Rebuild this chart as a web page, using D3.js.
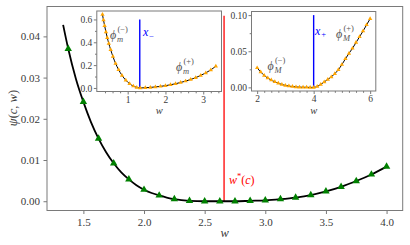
<!DOCTYPE html>
<html>
<head>
<meta charset="utf-8">
<script src="https://cdn.jsdelivr.net/npm/d3@7"></script>
<style>
body { margin: 0; background: #fff; }
svg { display: block; font-family: "Liberation Serif", "DejaVu Serif", serif; }
</style>
</head>
<body>
<svg width="410" height="245"></svg>
<script>
// main panel: psi(c, w)
const lineW = [1.333, 1.375, 1.4375, 1.5, 1.5625, 1.625, 1.6875, 1.75, 1.8125, 1.875, 1.9375, 2.0, 2.0625, 2.125, 2.1875, 2.25, 2.375, 2.5, 2.625, 2.75, 2.875, 3.0, 3.125, 3.25, 3.375, 3.5, 3.625, 3.75, 3.875, 4.0];
const linePsi = [0.0428, 0.0370, 0.0298, 0.0241, 0.0192, 0.0152, 0.0119, 0.0092, 0.0070, 0.0053, 0.0039, 0.0028, 0.0020, 0.0014, 0.0009, 0.0005, 0.0001, 0.0, 0.0, 0.0, 0.0001, 0.0002, 0.0005, 0.0009, 0.0015, 0.0024, 0.0035, 0.0049, 0.0065, 0.0084];
const triW = [1.375, 1.5, 1.625, 1.75, 1.875, 2.0, 2.125, 2.25, 2.375, 2.5, 2.625, 2.75, 2.875, 3.0, 3.125, 3.25, 3.375, 3.5, 3.625, 3.75, 3.875, 4.0];
const triPsi = [0.0370, 0.0241, 0.0152, 0.0092, 0.0053, 0.0028, 0.0014, 0.0005, 0.0001, 0.0, 0.0, 0.0, 0.0001, 0.0002, 0.0005, 0.0009, 0.0015, 0.0024, 0.0035, 0.0049, 0.0065, 0.0084];
const wStar = 2.66, wStarTop = 0.045;
const mainXTicks = [1.5, 2.0, 2.5, 3.0, 3.5, 4.0];
const mainYTicks = [0.00, 0.01, 0.02, 0.03, 0.04];

// inset 1: phi_m
const mW = [0.333, 0.36, 0.39, 0.425, 0.46, 0.50, 0.55, 0.61, 0.68, 0.76, 0.85, 0.95, 1.05, 1.15, 1.24, 1.333, 1.467, 1.6, 1.733, 1.867, 2.0, 2.133, 2.267, 2.4, 2.533, 2.667, 2.8, 2.933, 3.067, 3.2, 3.333];
const mPhi = [0.643, 0.595, 0.545, 0.49, 0.44, 0.39, 0.335, 0.275, 0.215, 0.16, 0.11, 0.068, 0.037, 0.016, 0.005, 0.0, 0.002, 0.005, 0.009, 0.014, 0.02, 0.028, 0.037, 0.048, 0.06, 0.074, 0.09, 0.11, 0.132, 0.158, 0.19];
const xMinus = 1.32, xMinusTop = 0.6;
const mXTicks = [1, 2, 3];
const mXMinor = [0.4, 0.6, 0.8, 1.2, 1.4, 1.6, 1.8, 2.2, 2.4, 2.6, 2.8, 3.2, 3.4];
const mYTicks = [0.0, 0.2, 0.4, 0.6];
const mYMinor = [0.1, 0.3, 0.5];

// inset 2: phi_M
const MW = [2.0, 2.125, 2.25, 2.375, 2.5, 2.625, 2.75, 2.875, 3.0, 3.125, 3.25, 3.375, 3.5, 3.625, 3.75, 3.875, 4.0, 4.125, 4.25, 4.375, 4.5, 4.625, 4.75, 4.875, 5.0, 5.125, 5.25, 5.375, 5.5, 5.625, 5.75, 5.875, 6.0];
const MPhi = [0.027, 0.0213, 0.0165, 0.0129, 0.0101, 0.0077, 0.0057, 0.004, 0.0027, 0.0018, 0.0011, 0.0006, 0.0003, 0.0002, 0.0001, 0.0, 0.0, 0.0013, 0.004, 0.0075, 0.011, 0.0145, 0.019, 0.0245, 0.0315, 0.0395, 0.047, 0.054, 0.062, 0.07, 0.078, 0.0865, 0.095];
const xPlus = 4.0, xPlusTop = 0.1;
const MXTicks = [2, 4, 6];
const MXMinor = [2.25, 2.5, 2.75, 3, 3.25, 3.5, 3.75, 4.25, 4.5, 4.75, 5, 5.25, 5.5, 5.75];
const MYTicks = [0.00, 0.05, 0.10];
const MYMinor = [0.025, 0.075];

const svg = d3.select("svg");
const spine = "#7a7a7a", tickCol = "#555", txtCol = "#3a3a3a";

function styleAxis(g, size) {
	// d3 puts sans-serif on the axis group, drop it so the serif font applies
	g.attr("font-family", null).attr("font-size", null);
	g.select(".domain").remove();
	g.selectAll(".tick line").attr("stroke", tickCol).attr("stroke-width", 0.8);
	g.selectAll(".tick text").attr("fill", txtCol).style("font-size", size + "px");
}

// ---------- main axes ----------
let x = d3.scaleLinear().domain([1.2, 4.133]).range([47, 402.7]);
let y = d3.scaleLinear().domain([-0.00225, 0.04725]).range([210.5, 6.5]);

svg.append("g")
	.attr("transform", "translate(0,210.5)")
	.call(d3.axisBottom(x).tickValues(mainXTicks).tickFormat(d3.format(".1f")).tickSize(3.5).tickPadding(4))
	.call(g => styleAxis(g, 11));
svg.append("g")
	.attr("transform", "translate(47,0)")
	.call(d3.axisLeft(y).tickValues(mainYTicks).tickFormat(d3.format(".2f")).tickSize(3.5).tickPadding(3.5))
	.call(g => styleAxis(g, 11));

svg.append("rect")
	.attr("x", x.range()[0]).attr("y", y.range()[1])
	.attr("width", x.range()[1] - x.range()[0]).attr("height", y.range()[0] - y.range()[1])
	.attr("fill", "none").attr("stroke", spine).attr("stroke-width", 1);

// red w*(c) line
svg.append("line")
	.attr("x1", x(wStar)).attr("x2", x(wStar))
	.attr("y1", y(0)).attr("y2", y(wStarTop))
	.attr("stroke", "red").attr("stroke-width", 1.3);

let line = d3.line().x((d, i) => x(lineW[i])).y(d => y(d)).curve(d3.curveMonotoneX);
svg.append("path").datum(linePsi)
	.attr("d", line)
	.attr("fill", "none").attr("stroke", "black").attr("stroke-width", 1.8);

svg.append("g").selectAll("path")
	.data(triPsi)
	.join("path")
	.attr("d", d3.symbol(d3.symbolTriangle, 24))
	.attr("transform", (d, i) => "translate(" + x(triW[i]) + "," + y(d) + ")")
	.attr("fill", "green");

// w*(c) label
let wl = svg.append("text")
	.attr("x", x(2.70)).attr("y", y(0.0042))
	.attr("fill", "red").style("font-size", "12px");
wl.append("tspan").style("font-style", "italic").text("w");
wl.append("tspan").attr("dy", -4.5).style("font-size", "8.5px").text("*");
wl.append("tspan").attr("dy", 4.5).text("(");
wl.append("tspan").style("font-style", "italic").text("c");
wl.append("tspan").text(")");

// axis labels
svg.append("text")
	.attr("x", x(2.666)).attr("y", 237)
	.attr("text-anchor", "middle").attr("fill", txtCol)
	.style("font-size", "12.5px").style("font-style", "italic").text("w");

let yl = svg.append("text")
	.attr("transform", "translate(17,108) rotate(-90)")
	.attr("text-anchor", "middle").attr("fill", txtCol).style("font-size", "12.5px");
yl.append("tspan").style("font-style", "italic").text("ψ");
yl.append("tspan").text("(");
yl.append("tspan").style("font-style", "italic").text("c");
yl.append("tspan").text(", ");
yl.append("tspan").style("font-style", "italic").text("w");
yl.append("tspan").text(")");

// ---------- insets ----------
function phiLabel(g, px, py, sup, sub, col) {
	g.append("text").attr("x", px).attr("y", py).attr("fill", col)
		.style("font-size", "12px").style("font-style", "italic").text("ϕ");
	g.append("text").attr("x", px + 7.5).attr("y", py - 6.5).attr("fill", col)
		.style("font-size", "8.5px").text(sup);
	g.append("text").attr("x", px + 7).attr("y", py + 3).attr("fill", col)
		.style("font-size", "8.5px").style("font-style", "italic").text(sub);
}

function xLabel(g, px, py, sub) {
	g.append("text").attr("x", px).attr("y", py).attr("fill", "blue")
		.style("font-size", "12px").style("font-style", "italic").text("x");
	g.append("text").attr("x", px + 6.3).attr("y", py + 2.5).attr("fill", "blue")
		.style("font-size", "8.5px").text(sub);
}

function drawInset(opt) {
	const g = svg.append("g");
	const ix = d3.scaleLinear().domain(opt.xDom).range(opt.xRange);
	const iy = d3.scaleLinear().domain(opt.yDom).range(opt.yRange);

	g.append("rect")
		.attr("x", opt.xRange[0]).attr("y", opt.yRange[1])
		.attr("width", opt.xRange[1] - opt.xRange[0]).attr("height", opt.yRange[0] - opt.yRange[1])
		.attr("fill", "white");

	g.append("g").attr("transform", "translate(0," + opt.yRange[0] + ")")
		.call(d3.axisBottom(ix).tickValues(opt.xMinor).tickFormat("").tickSize(1.8))
		.call(a => styleAxis(a, 9));
	g.append("g").attr("transform", "translate(" + opt.xRange[0] + ",0)")
		.call(d3.axisLeft(iy).tickValues(opt.yMinor).tickFormat("").tickSize(1.8))
		.call(a => styleAxis(a, 9));
	g.append("g").attr("transform", "translate(0," + opt.yRange[0] + ")")
		.call(d3.axisBottom(ix).tickValues(opt.xTicks).tickFormat(opt.xFmt).tickSize(3).tickPadding(1.5))
		.call(a => styleAxis(a, 9.5));
	g.append("g").attr("transform", "translate(" + opt.xRange[0] + ",0)")
		.call(d3.axisLeft(iy).tickValues(opt.yTicks).tickFormat(opt.yFmt).tickSize(3).tickPadding(1.5))
		.call(a => styleAxis(a, 9.5));

	g.append("line")
		.attr("x1", ix(opt.vx)).attr("x2", ix(opt.vx))
		.attr("y1", iy(0)).attr("y2", iy(opt.vTop))
		.attr("stroke", "blue").attr("stroke-width", 1.4);

	g.append("path").datum(opt.v)
		.attr("d", d3.line().x((d, i) => ix(opt.w[i])).y(d => iy(d)).curve(d3.curveMonotoneX))
		.attr("fill", "none").attr("stroke", "black").attr("stroke-width", 1);

	g.append("g").selectAll("path")
		.data(opt.v)
		.join("path")
		.attr("d", d3.symbol(d3.symbolTriangle, 8))
		.attr("transform", (d, i) => "translate(" + ix(opt.w[i]) + "," + iy(d) + ")")
		.attr("fill", "orange");

	g.append("rect")
		.attr("x", opt.xRange[0]).attr("y", opt.yRange[1])
		.attr("width", opt.xRange[1] - opt.xRange[0]).attr("height", opt.yRange[0] - opt.yRange[1])
		.attr("fill", "none").attr("stroke", spine).attr("stroke-width", 1);

	g.append("text")
		.attr("x", (opt.xRange[0] + opt.xRange[1]) / 2).attr("y", 114)
		.attr("text-anchor", "middle").attr("fill", txtCol)
		.style("font-size", "10.5px").style("font-style", "italic").text("w");

	return { g, ix, iy };
}

let m = drawInset({
	xDom: [0.183, 3.483], xRange: [96.8, 221.5],
	yDom: [-0.031, 0.674], yRange: [91.5, 11],
	xTicks: mXTicks, xMinor: mXMinor, yTicks: mYTicks, yMinor: mYMinor,
	xFmt: d3.format("d"), yFmt: d3.format(".1f"),
	w: mW, v: mPhi, vx: xMinus, vTop: xMinusTop
});
phiLabel(m.g, m.ix(0.532), m.iy(0.429), "(−)", "m", "#555");
phiLabel(m.g, m.ix(2.278), m.iy(0.149), "(+)", "m", "#555");
xLabel(m.g, m.ix(1.405), m.iy(0.455), "−");

let M = drawInset({
	xDom: [1.8, 6.2], xRange: [251.5, 375.8],
	yDom: [-0.005, 0.105], yRange: [91, 11.5],
	xTicks: MXTicks, xMinor: MXMinor, yTicks: MYTicks, yMinor: MYMinor,
	xFmt: d3.format("d"), yFmt: d3.format(".2f"),
	w: MW, v: MPhi, vx: xPlus, vTop: xPlusTop
});
phiLabel(M.g, M.ix(4.79), M.iy(0.0684), "(+)", "M", "#555");
phiLabel(M.g, M.ix(2.366), M.iy(0.0241), "(−)", "M", "#555");
xLabel(M.g, M.ix(4.048), M.iy(0.0725), "+");
</script>
</body>
</html>
